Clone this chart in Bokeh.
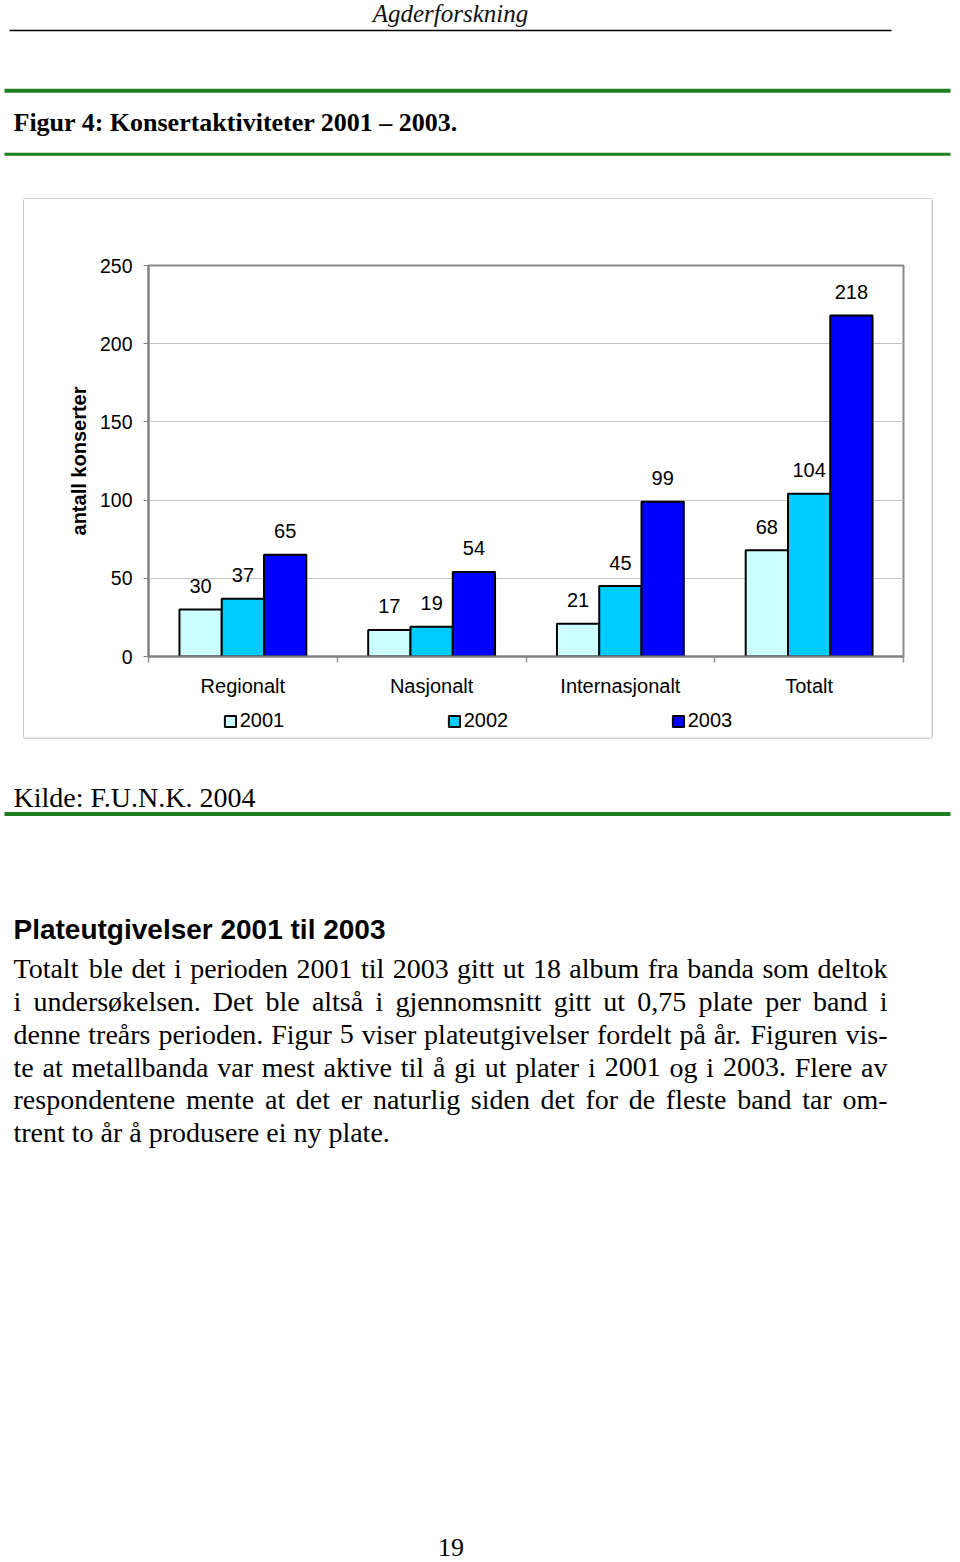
from bokeh.plotting import figure
from bokeh.models import (Range1d, FixedTicker, Legend, LegendItem, ColumnDataSource,
                          LinearAxis, Grid)
from bokeh.layouts import column, row
from bokeh.transform import dodge
from bokeh.embed import file_html
from bokeh.resources import INLINE
from bokeh.core.properties import value

# ---------------- data ----------------
categories = ["Regionalt", "Nasjonalt", "Internasjonalt", "Totalt"]
years = ["2001", "2002", "2003"]
values_2001 = [30, 17, 21, 68]
values_2002 = [37, 19, 45, 104]
values_2003 = [65, 54, 99, 218]
y_ticks = [0, 50, 100, 150, 200, 250]
y_label = "antall konserter"
bar_colors = ["#ccffff", "#00ccff", "#0000ff"]

header_text = "Agderforskning"
figure_title = "Figur 4: Konsertaktiviteter 2001 – 2003."
source_note = "Kilde: F.U.N.K. 2004"
section_heading = "Plateutgivelser 2001 til 2003"
paragraph_lines = [
    "Totalt ble det i perioden 2001 til 2003 gitt ut 18 album fra banda som deltok",
    "i undersøkelsen. Det ble altså i gjennomsnitt gitt ut 0,75 plate per band i",
    "denne treårs perioden. Figur 5 viser plateutgivelser fordelt på år. Figuren vis-",
    "te at metallbanda var mest aktive til å gi ut plater i 2001 og i 2003. Flere av",
    "respondentene mente at det er naturlig siden det for de fleste band tar om-",
    "trent to år å produsere ei ny plate.",
]
page_number = "19"

SERIF_NAME = "Liberation Serif"
SANS_NAME = "Liberation Sans"
SERIF = value(SERIF_NAME)
SANS = value(SANS_NAME)
GREEN = "#1f7f1f"
BOX = "#a8a8a8"
PAGE_W, PAGE_H = 960, 1562
BASE_FIX = 0.33  # baseline correction (em)


def page_fig(w, h, x0, y0):
    f = figure(width=w, height=h, x_range=Range1d(x0, x0 + w), y_range=Range1d(y0 + h, y0),
               x_axis_type=None, y_axis_type=None, output_backend="svg",
               toolbar_location=None, min_border=0)
    f.outline_line_color = None
    f.background_fill_color = "white"
    f.border_fill_color = "white"
    return f


def put_text(f, xs, ys, txts, font, size, style="normal", align="left", color="black"):
    f.text(x=xs, y=[yy - BASE_FIX * size for yy in ys], text=txts, text_font=font,
           text_font_style=style, text_font_size=f"{size}px", text_align=align,
           text_baseline="alphabetic", text_color=color)


# ---------------- top of page ----------------
TOP_H = 199
top = page_fig(PAGE_W, TOP_H, 0, 0)
put_text(top, [450], [21], [header_text], SERIF, 25, style="italic", align="center", color="#111111")
top.segment(x0=[9], y0=[30], x1=[891], y1=[30], line_color="black", line_width=1.5)
top.segment(x0=[4, 4], y0=[90.3, 153.7], x1=[950, 950], y1=[90.3, 153.7],
            line_color=GREEN, line_width=[4, 3])
put_text(top, [13], [131], [figure_title], SERIF, 26, style="bold")
top.segment(x0=[23], y0=[198.5], x1=[932], y1=[198.5], line_color=BOX, line_width=1.2)

# ---------------- chart ----------------
CH_Y0, CH_Y1 = 199, 737
LEG_H = 37
series = [values_2001, values_2002, values_2003]
cat_pos = [2 * i + 1 for i in range(len(categories))]
data = dict(x=cat_pos)
for yr, vals in zip(years, series):
    data[yr] = vals
    data["lbl" + yr] = [str(v) for v in vals]
src = ColumnDataSource(data)

p = figure(width=907, height=CH_Y1 - CH_Y0 - LEG_H, x_range=Range1d(0, 2 * len(categories)),
           y_range=Range1d(y_ticks[0], y_ticks[-1]),
           x_axis_type=None, y_axis_type=None, output_backend="svg", toolbar_location=None,
           min_border_left=124, min_border_right=28, min_border_top=66, min_border_bottom=44)
p.outline_line_color = "#8a8a8a"
p.outline_line_width = 2
p.background_fill_color = "white"
p.border_fill_color = "white"

p.add_layout(Grid(dimension=1, ticker=FixedTicker(ticks=y_ticks[1:-1]),
                  grid_line_color="#c4c4c4", grid_line_width=1.2))

yaxis = LinearAxis(ticker=FixedTicker(ticks=y_ticks), axis_label=y_label,
                   axis_line_color="#808080", axis_line_width=2,
                   major_tick_line_color="#808080", major_tick_out=5, major_tick_in=0,
                   minor_tick_line_color=None,
                   major_label_standoff=11, major_label_text_font=SANS_NAME,
                   major_label_text_font_size="19.5px", major_label_text_color="black",
                   axis_label_standoff=7, axis_label_text_font=SANS_NAME,
                   axis_label_text_font_size="20px", axis_label_text_font_style="bold",
                   axis_label_text_color="black")
p.add_layout(yaxis, "left")

xaxis = LinearAxis(ticker=FixedTicker(ticks=cat_pos,
                                      minor_ticks=list(range(0, 2 * len(categories) + 1, 2))),
                   major_label_overrides={c: n for c, n in zip(cat_pos, categories)},
                   axis_line_color="#808080", axis_line_width=2,
                   major_tick_line_color=None, major_tick_out=0, major_tick_in=0,
                   minor_tick_line_color="#909090", minor_tick_line_width=1.5,
                   minor_tick_out=6, minor_tick_in=0,
                   major_label_standoff=12, major_label_text_font=SANS_NAME,
                   major_label_text_font_size="20px", major_label_text_color="black")
p.add_layout(xaxis, "below")

bar_w = 0.448
offsets = [-bar_w, 0.0, bar_w]
for j, yr in enumerate(years):
    p.vbar(x=dodge("x", offsets[j]), top=yr, width=bar_w, source=src,
           fill_color=bar_colors[j], line_color="black", line_width=2)
    p.text(x=dodge("x", offsets[j]), y=yr, text="lbl" + yr, source=src,
           text_font=SANS, text_font_size="20px", text_align="center",
           text_baseline="alphabetic", y_offset=-17 - BASE_FIX * 20, text_color="black")

# legend strip (below the category labels, inside the chart box)
leg = figure(width=907, height=LEG_H, x_range=Range1d(0, 907), y_range=Range1d(0, LEG_H),
             x_axis_type=None, y_axis_type=None, output_backend="svg",
             toolbar_location=None, min_border=0)
leg.outline_line_color = None
leg.background_fill_color = "white"
leg.border_fill_color = "white"
leg_items = []
for j, yr in enumerate(years):
    r = leg.vbar(x=dodge("x", offsets[j]), top=yr, width=bar_w, source=src,
                 fill_color=bar_colors[j], line_color="black", line_width=2, visible=False)
    leg_items.append(LegendItem(label=yr, renderers=[r]))
legend = Legend(items=leg_items, orientation="horizontal", location=(74.7, 5),
                margin=0, padding=0, spacing=161, glyph_width=14, glyph_height=14,
                label_standoff=3, label_width=46, label_height=14,
                label_text_font=SANS_NAME, label_text_font_size="20px",
                label_text_color="black", border_line_color=None, background_fill_alpha=0)
leg.add_layout(legend)

left_edge = page_fig(24, CH_Y1 - CH_Y0, 0, CH_Y0)
left_edge.segment(x0=[23.5], y0=[CH_Y0], x1=[23.5], y1=[CH_Y1], line_color=BOX, line_width=1.2)
right_edge = page_fig(PAGE_W - 931, CH_Y1 - CH_Y0, 931, CH_Y0)
right_edge.segment(x0=[931.5], y0=[CH_Y0], x1=[931.5], y1=[CH_Y1], line_color=BOX, line_width=1.2)

chart_row = row(left_edge, column(p, leg), right_edge)

# ---------------- bottom of page ----------------
BOT_Y0 = CH_Y1
bot = page_fig(PAGE_W, PAGE_H - BOT_Y0, 0, BOT_Y0)
bot.segment(x0=[23], y0=[737.5], x1=[932], y1=[737.5], line_color=BOX, line_width=1.2)
put_text(bot, [13], [806], [source_note], SERIF, 28)
bot.segment(x0=[4], y0=[813.5], x1=[950], y1=[813.5], line_color=GREEN, line_width=4)
put_text(bot, [13], [938], [section_heading], SANS, 28, style="bold")

# Times-compatible advance widths (1/1000 em) for justified paragraph layout
W = dict(a=444, b=500, c=444, d=500, e=444, f=333, g=500, h=500, i=278, j=278, k=500, l=278,
         m=778, n=500, o=500, p=500, q=500, r=333, s=389, t=278, u=500, v=500, w=722, x=500,
         y=500, z=444, A=722, B=667, C=667, D=722, E=611, F=556, G=722, H=722, I=333, J=389,
         K=722, L=611, M=889, N=722, O=722, P=556, Q=722, R=667, S=556, T=611, U=722, V=722,
         W=944, X=722, Y=722, Z=611)
W.update({",": 250, ".": 250, "-": 333, ":": 278, "å": 444, "ø": 500, "æ": 667})
for dch in "0123456789":
    W[dch] = 500

FS = 28
LEFT, RIGHT = 13.0, 887.0
first_base = 977.5
line_gap = 32.75


def word_w(wd):
    return sum(W.get(ch, 500) for ch in wd) * FS / 1000.0


wx, wy, wt = [], [], []
for li, line in enumerate(paragraph_lines):
    words = line.split(" ")
    widths = [word_w(wd) for wd in words]
    if li < len(paragraph_lines) - 1 and len(words) > 1:
        gap = (RIGHT - LEFT - sum(widths)) / (len(words) - 1)
    else:
        gap = 0.25 * FS
    x = LEFT
    for wd, ww in zip(words, widths):
        wx.append(x)
        wy.append(first_base + li * line_gap)
        wt.append(wd)
        x += ww + gap
put_text(bot, wx, wy, wt, SERIF, FS)

put_text(bot, [450.5], [1556], [page_number], SERIF, 26, align="center")

layout = column(top, chart_row, bot)
open("out.html", "w").write(file_html(layout, INLINE))
